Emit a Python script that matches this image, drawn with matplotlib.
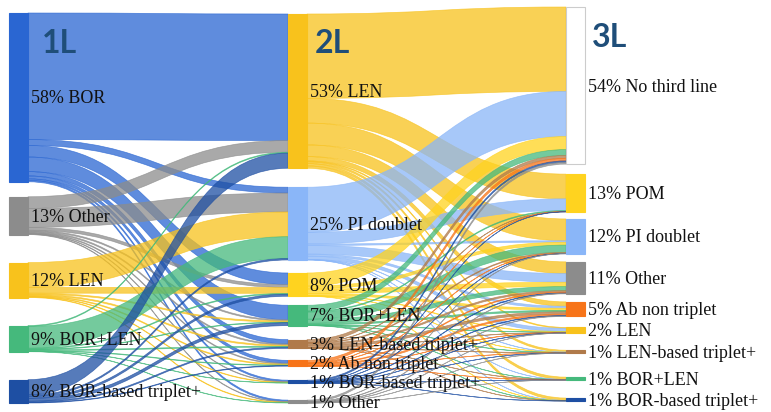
import numpy as np
import matplotlib
matplotlib.use("Agg")
import matplotlib.pyplot as plt
from matplotlib.path import Path
from matplotlib.patches import PathPatch, Rectangle

# ---- data (percent of patients) ----
names_1l = ["BOR", "Other", "LEN", "BOR+LEN", "BOR-based triplet+"]
names_2l = ["LEN", "PI doublet", "POM", "BOR+LEN", "LEN-based triplet+",
            "Ab non triplet", "BOR-based triplet+", "Other"]
names_3l = ["No third line", "POM", "PI doublet", "Other", "Ab non triplet",
            "LEN", "LEN-based triplet+", "BOR+LEN", "BOR-based triplet+"]

pct_1l = [58, 13, 12, 9, 8]
pct_2l = [53, 25, 8, 7, 3, 2, 1, 1]
pct_3l = [54, 13, 12, 11, 5, 2, 1, 1, 1]

# rows: 1L regimen, columns: 2L regimen
flows_12 = [
    [43.5, 2.0, 4.0, 5.0, 1.5, 1.0, 0.5, 0.5],
    [4.0, 6.5, 1.0, 0.4, 0.4, 0.3, 0.2, 0.2],
    [0.0, 8.5, 2.0, 0.4, 0.4, 0.3, 0.2, 0.2],
    [0.3, 7.5, 0.3, 0.2, 0.3, 0.2, 0.1, 0.1],
    [5.2, 0.5, 0.7, 1.0, 0.4, 0.2, 0.0, 0.0],
]
# rows: 2L regimen, columns: 3L regimen
flows_23 = [
    [29.0, 8.5, 7.5, 4.0, 1.5, 0.3, 0.6, 0.8, 0.8],
    [15.5, 4.0, 0.5, 3.0, 0.7, 1.1, 0.1, 0.05, 0.05],
    [4.5, 0.0, 1.0, 1.5, 0.7, 0.2, 0.05, 0.0, 0.05],
    [2.0, 0.3, 2.5, 1.4, 0.5, 0.1, 0.1, 0.05, 0.05],
    [1.0, 0.1, 0.3, 0.5, 0.8, 0.1, 0.1, 0.05, 0.05],
    [0.9, 0.05, 0.1, 0.3, 0.5, 0.1, 0.02, 0.03, 0.0],
    [0.5, 0.05, 0.05, 0.15, 0.15, 0.05, 0.02, 0.01, 0.02],
    [0.59, 0.0, 0.05, 0.15, 0.15, 0.04, 0.01, 0.01, 0.0],
]

colors = {
    "BOR": "#2a66d2", "Other": "#8c8c8c", "LEN": "#f8c21c",
    "BOR+LEN": "#45b97c", "BOR-based triplet+": "#1e4fa3",
    "PI doublet": "#8ab6f8", "POM": "#ffd31f",
    "LEN-based triplet+": "#b07a4a", "Ab non triplet": "#f77419",
    "No third line": "white",
}

# ---- layout (pixels) ----
W, H = 771, 412
scale = 2.91                 # px per percent
node_w = 19
col_x = [9, 288, 566]
col_top = [13, 14, 7]
col_gaps = [
    [15, 28, 28, 28],
    [19, 13, 9, 14, 12, 14, 17],
    [10, 7, 8, 8, 11, 17, 24, 18],
]

f12 = np.array(flows_12)
f23 = np.array(flows_23)
vals = [f12.sum(axis=1), f12.sum(axis=0), f23.sum(axis=0)]


def stack(values, top, gaps):
    tops = []
    y = top
    for i, v in enumerate(values):
        tops.append(y)
        y += v * scale
        if i < len(gaps):
            y += gaps[i]
    return np.array(tops)


tops = [stack(vals[c], col_top[c], col_gaps[c]) for c in range(3)]


def draw_link(ax, x0, x1, s0, s1, t0, t1, color):
    xm = (x0 + x1) / 2
    verts = [(x0, s0), (xm, s0), (xm, t0), (x1, t0),
             (x1, t1), (xm, t1), (xm, s1), (x0, s1), (x0, s0)]
    codes = [Path.MOVETO, Path.CURVE4, Path.CURVE4, Path.CURVE4,
             Path.LINETO, Path.CURVE4, Path.CURVE4, Path.CURVE4, Path.CLOSEPOLY]
    ax.add_patch(PathPatch(Path(verts, codes), facecolor=color, edgecolor=color,
                           lw=0.5, alpha=0.75, zorder=1))


def draw_links(ax, flows, c, src_names):
    src_off = tops[c].copy()
    tgt_off = tops[c + 1].copy()
    # outgoing stacked in target order, incoming stacked in source order
    src_pos = np.zeros(flows.shape)
    for i in range(flows.shape[0]):
        for j in range(flows.shape[1]):
            src_pos[i, j] = src_off[i]
            src_off[i] += flows[i, j] * scale
    tgt_pos = np.zeros(flows.shape)
    for j in range(flows.shape[1]):
        for i in range(flows.shape[0]):
            tgt_pos[i, j] = tgt_off[j]
            tgt_off[j] += flows[i, j] * scale
    x0 = col_x[c] + node_w
    x1 = col_x[c + 1]
    for i in range(flows.shape[0]):
        for j in range(flows.shape[1]):
            v = flows[i, j] * scale
            if v <= 0:
                continue
            draw_link(ax, x0, x1, src_pos[i, j], src_pos[i, j] + v,
                      tgt_pos[i, j], tgt_pos[i, j] + v, colors[src_names[i]])


fig = plt.figure(figsize=(W / 100, H / 100), dpi=100)
ax = fig.add_axes([0, 0, 1, 1])
ax.set_xlim(0, W)
ax.set_ylim(H, 0)
ax.axis("off")

draw_links(ax, f12, 0, names_1l)
draw_links(ax, f23, 1, names_2l)

all_names = [names_1l, names_2l, names_3l]
all_pct = [pct_1l, pct_2l, pct_3l]
for c in range(3):
    for k, name in enumerate(all_names[c]):
        h = vals[c][k] * scale
        edge = "#cccccc" if name == "No third line" else colors[name]
        ax.add_patch(Rectangle((col_x[c], tops[c][k]), node_w, h,
                               facecolor=colors[name], edgecolor=edge,
                               lw=0.8, zorder=3))
        ax.text(col_x[c] + node_w + 3, tops[c][k] + h / 2 + 1.5,
                f"{all_pct[c][k]}% {name}", family="Liberation Serif",
                fontsize=13, color="#111111", va="center", ha="left", zorder=4)

for label, x, y in [("1L", 42, 43), ("2L", 315, 43), ("3L", 592, 37)]:
    ax.text(x, y, label, family="Lato", fontweight="bold", fontsize=23,
            color="#1f4e79", va="center", ha="left", zorder=5)

fig.savefig("out.png", dpi=100)
